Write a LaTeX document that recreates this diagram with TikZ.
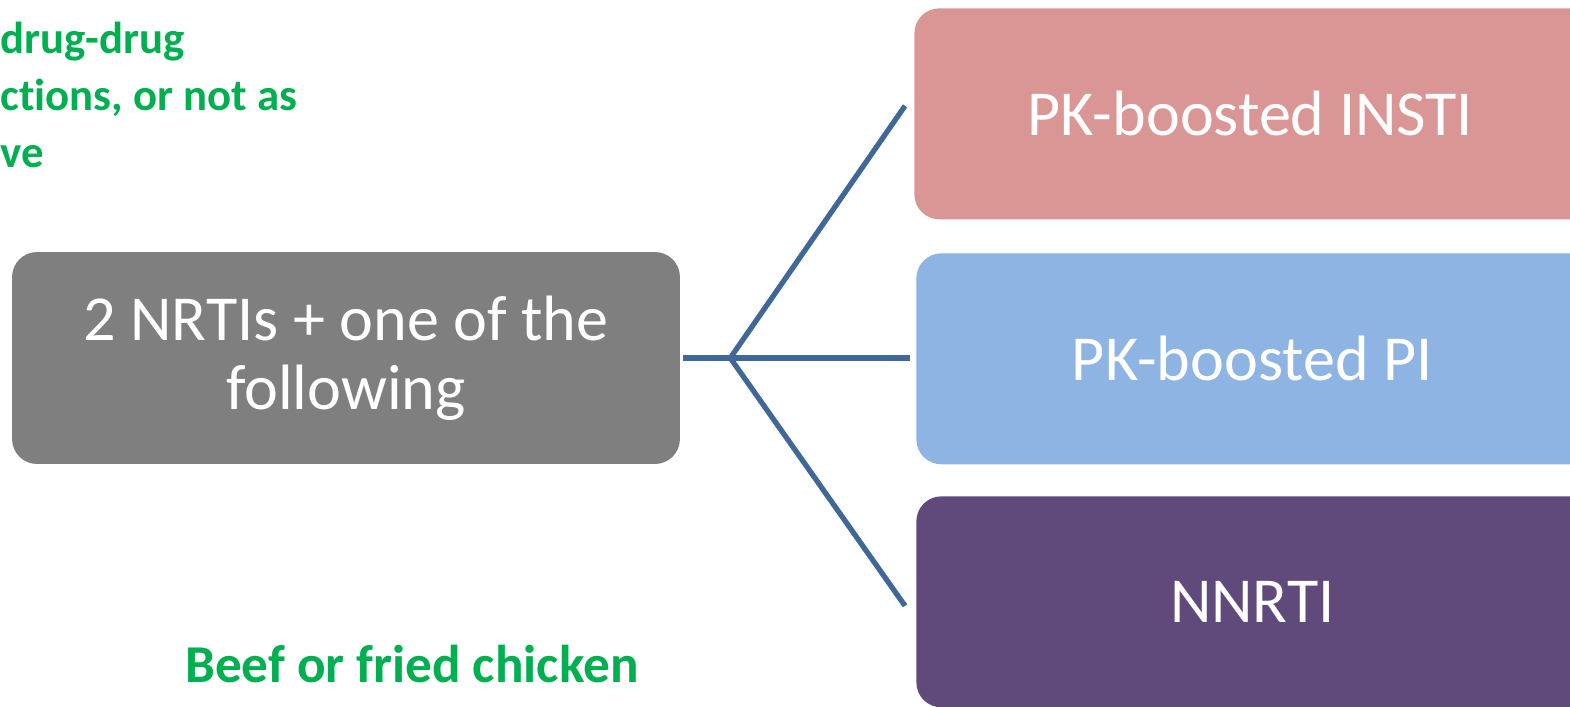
\documentclass[tikz,border=0pt]{standalone}
\usepackage{fontspec}
\setmainfont{Carlito}[Ligatures={NoCommon}]
\usepackage{tikz}
\usetikzlibrary{positioning}
\definecolor{hubgrey}{HTML}{7F7F7F}
\definecolor{instipink}{HTML}{D99694}
\definecolor{piblue}{HTML}{8EB4E3}
\definecolor{nnrtipurple}{HTML}{604A7B}
\definecolor{linkblue}{HTML}{3F6797}
\definecolor{notegreen}{HTML}{00B050}
\tikzset{
  % Specifications for style of nodes:
  base/.style = {
    rectangle,
    rounded corners=0.5cm,
    text centered,
    text=white,
    inner sep=0pt,
    font=\fontsize{36.5}{39}\selectfont
  },
  hub/.style = {
    base,
    minimum width=13.36cm,
    minimum height=4.24cm,
    fill=hubgrey
  },
  choice/.style = {
    base,
    anchor=north west,
    minimum width=14cm,
    minimum height=4.22cm
  },
  note/.style = {
    text=notegreen,
    inner sep=0pt,
    align=left,
    font=\bfseries
  },
  link/.style = {
    draw=linkblue,
    line width=3pt
  },
}
\begin{document}
\begin{tikzpicture}[x=0.02cm, y=-0.02cm]
    \useasboundingbox (0,0) rectangle (1570,707);
    \clip (0,0) rectangle (1570,707);
    % Specification of nodes (position, etc.)
    \node[hub, align=center] (hub) at (346,358) {2 NRTIs + one of the\\following};
    \node[choice, fill=instipink]   (insti) at (914,8)   {\hspace*{-0.56cm}PK-boosted INSTI};
    \node[choice, fill=piblue]      (pi)    at (916,253) {\hspace*{-0.56cm}PK-boosted PI};
    \node[choice, fill=nnrtipurple] (nnrti) at (916,496) {\hspace*{-0.56cm}NNRTI};
    \node[note, anchor=base west, font=\fontsize{25.5}{32.4}\selectfont\bfseries]
      (caveat) at (0,167) {drug-drug\\ctions, or not as\\ve};
    \node[note, anchor=base west, font=\fontsize{30.3}{32}\selectfont\bfseries]
      (food) at (185,682) {Beef or fried chicken};
    \coordinate (fork) at ([xshift=1cm]hub.east);
    % Connectors
    \draw[link] ([xshift=0.06cm]hub.east) -- (fork);
    \draw[link] (fork) -- ([xshift=-0.12cm]fork -| pi.west);
    \draw[link] (fork) -- ([xshift=-0.18cm, yshift=0.16cm]insti.west);
    \draw[link] (fork) -- ([xshift=-0.22cm, yshift=-0.08cm]nnrti.west);
  \end{tikzpicture}
\end{document}
